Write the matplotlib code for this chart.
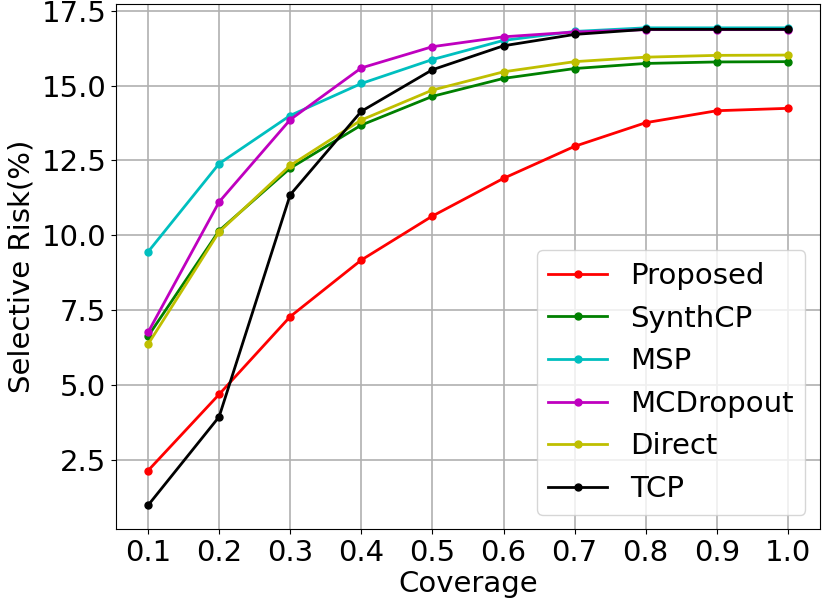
import matplotlib
matplotlib.use("Agg")
from matplotlib import pyplot as plt
from matplotlib.ticker import MultipleLocator

coverage = [0.1, 0.2, 0.3, 0.4, 0.5, 0.6, 0.7, 0.8, 0.9, 1.0]

proposed = [2.13, 4.68, 7.28, 9.17, 10.64, 11.90, 12.97, 13.76, 14.16, 14.24]
synthcp = [6.62, 10.15, 12.24, 13.68, 14.64, 15.24, 15.57, 15.74, 15.79, 15.80]
msp = [9.44, 12.39, 14.00, 15.07, 15.87, 16.51, 16.81, 16.93, 16.93, 16.93]
mcdropout = [6.75, 11.11, 13.86, 15.59, 16.30, 16.63, 16.79, 16.87, 16.87, 16.87]
direct = [6.35, 10.11, 12.33, 13.85, 14.85, 15.46, 15.80, 15.95, 16.01, 16.02]
tcp = [0.97, 3.93, 11.35, 14.14, 15.53, 16.33, 16.71, 16.88, 16.88, 16.88]

series = [
    ("Proposed", proposed, "r"),
    ("SynthCP", synthcp, "g"),
    ("MSP", msp, "c"),
    ("MCDropout", mcdropout, "m"),
    ("Direct", direct, "y"),
    ("TCP", tcp, "k"),
]

plt.rcParams["font.size"] = 21

fig = plt.figure(figsize=(8.22, 6.09), dpi=100)
ax = fig.add_axes([0.1411, 0.1309, 0.8564, 0.8626])

for name, vals, col in series:
    ax.plot(coverage, vals, color=col, marker="o", markersize=5, linewidth=2, label=name)

ax.set_xticks(coverage)
ax.yaxis.set_major_locator(MultipleLocator(2.5))
ax.grid(True, color="#b0b0b0", linewidth=1.2)
ax.set_xlabel("Coverage", labelpad=2)
ax.set_ylabel("Selective Risk(%)", labelpad=4)
ax.legend(loc="lower right", fontsize=21)

fig.savefig("out.png", dpi=100)
